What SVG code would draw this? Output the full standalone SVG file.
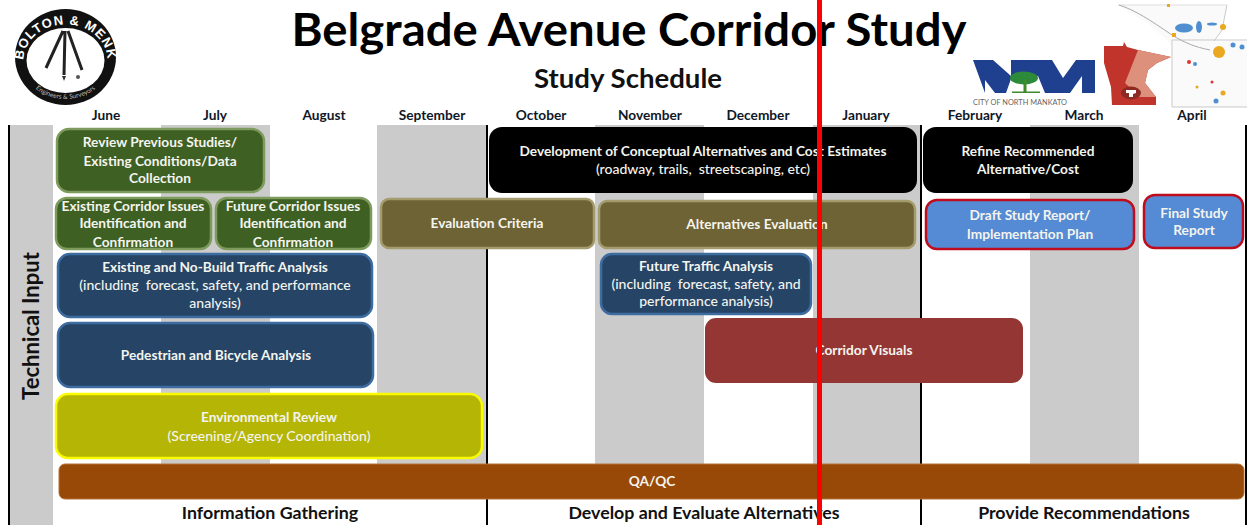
<svg xmlns="http://www.w3.org/2000/svg" width="1247" height="525" viewBox="0 0 1247 525">
<style>
text{font-family:"Lato","Open Sans","Liberation Sans",sans-serif;font-weight:700;text-anchor:middle;white-space:pre}
.m{font-size:13.7px;fill:#101828}
.n{font-size:13.7px;fill:#f4f4ee}
.r{font-weight:500;font-size:14px}
.p{font-size:17.8px;fill:#111}
.box{stroke-width:2.5}
.band{fill:#cbcbcb}
.rule{stroke:#000;stroke-width:2;fill:none}
.lake{fill:#4f8fd0}
.gold{fill:#e9a820}
.road{fill:none;stroke:#c9c9c9;stroke-width:1}
</style>
<rect width="1247" height="525" fill="#fff"/>
<g id="bands">
<rect class="band" x="10" y="125" width="43" height="400"/>
<rect class="band" x="161" y="125" width="109" height="340"/>
<rect class="band" x="377" y="125" width="110" height="340"/>
<rect class="band" x="595" y="125" width="109" height="340"/>
<rect class="band" x="813" y="125" width="108" height="340"/>
<rect class="band" x="1030" y="125" width="109" height="340"/>
</g>
<g id="rules">
<path class="rule" d="M9 125V525M487 125V525M921 125V525M1246 125V525"/>
</g>
<g id="title">
<text x="629" y="46" fill="#000" style="font-size:45px" textLength="675" lengthAdjust="spacingAndGlyphs">Belgrade Avenue Corridor Study</text>
<text x="628" y="88" style="font-size:26px" fill="#111" textLength="188" lengthAdjust="spacingAndGlyphs">Study Schedule</text>
</g>
<g id="logo-bolton">
<ellipse cx="65.5" cy="57" rx="50.5" ry="48" fill="#111"/>
<ellipse cx="65.5" cy="60.5" rx="39" ry="32.5" fill="#fff"/>
<path d="M63 31L46 68M65 31L64 75M68 31L82 70" stroke="#222" stroke-width="3" fill="none"/>
<path d="M62 76h4l-2 5z" fill="#333"/>
<circle cx="78" cy="77" r="2" fill="#555"/>
<defs>
<path id="arcTop" d="M25 70A42 36 0 1 1 106 70"/>
<path id="arcBot" d="M29 82A43 36 0 0 0 102 82"/>
</defs>
<text style="font-size:13px;font-family:'Liberation Sans',sans-serif;letter-spacing:1px" fill="#fff"><textPath href="#arcTop" startOffset="50%">BOLTON &amp; MENK</textPath></text>
<text style="font-size:6.5px;font-weight:400" fill="#bbb"><textPath href="#arcBot" startOffset="50%">Engineers &amp; Surveyors</textPath></text>
</g>
<g id="logo-nm">
<path d="M973 60H993L1011 76V60H1052L1063 78L1076 60H1095V93H1082V76L1070 93H1045L1038 76H1012L1006 93H995L985 80V93Z" fill="#1f3f8f"/>
<ellipse cx="1024" cy="78" rx="14" ry="6.5" fill="#2c8a3a"/>
<rect x="1023.5" y="80" width="3" height="12" fill="#3f8a2a"/>
<rect x="1012" y="91.500" width="28" height="1.500" fill="#3f8a2a"/>
<text x="1020" y="105" style="font-size:8px;font-weight:400" fill="#666" textLength="94" lengthAdjust="spacingAndGlyphs">CITY OF NORTH MANKATO</text>
</g>
<g id="logo-map">
<path d="M1118 5H1227L1222 30L1214 41H1247V107H1172V45L1150 25Z" fill="#fafafa"/>
<path class="road" d="M1172 40H1247M1172 40V107H1247M1214 41L1222 30L1227 5"/>
<path d="M1118 5H1227" stroke="#ddd" fill="none"/>
<path d="M1119 5C1135 10 1150 20 1172 35C1185 43 1195 47 1210 50" fill="none" stroke="#aaa" stroke-width="1"/>
<ellipse class="lake" cx="1184" cy="28" rx="9" ry="4.500"/>
<ellipse class="lake" cx="1199" cy="27" rx="3" ry="6"/>
<ellipse class="lake" cx="1212" cy="24" rx="5" ry="1.500"/>
<circle class="gold" cx="1219" cy="52" r="6"/>
<circle class="gold" cx="1223" cy="27" r="3"/>
<rect class="gold" x="1172" y="33" width="4" height="4"/>
<rect class="gold" x="1167" y="4" width="3" height="3"/>
<circle class="lake" cx="1233" cy="45" r="2.500"/>
<circle class="lake" cx="1242" cy="47" r="2.500"/>
<circle class="lake" cx="1195" cy="64" r="2"/>
<circle class="lake" cx="1216" cy="101" r="2.500"/>
<circle cx="1189" cy="62" r="2" fill="#d33"/>
<circle class="gold" cx="1223" cy="93" r="2.500"/>
<circle class="gold" cx="1197" cy="87" r="1.500"/>
<circle cx="1212" cy="82" r="1.500" fill="#d33"/>
<path d="M1104 46H1123L1124 42L1127 47L1138 50L1171 57L1157 63L1148 70L1145 83L1156 97V105H1112L1111 87L1104 63Z" fill="#c0342c"/>
<path d="M1138 50L1171 57L1157 63L1148 70L1145 83L1156 97H1140L1125 83Z" fill="#dd907c"/>
<ellipse cx="1131" cy="93" rx="10" ry="6.500" fill="#8d2a22"/>
<path d="M1126 90H1136V93L1133 94V97H1129V93H1126Z" fill="#fff"/>
</g>
<g id="months">
<text class="m" x="106" y="120">June</text><text class="m" x="215" y="120">July</text><text class="m" x="324" y="120">August</text><text class="m" x="432" y="120">September</text><text class="m" x="541" y="120">October</text><text class="m" x="650" y="120">November</text><text class="m" x="758" y="120">December</text><text class="m" x="866" y="120">January</text><text class="m" x="975" y="120">February</text><text class="m" x="1084" y="120">March</text><text class="m" x="1192" y="120">April</text>
</g>
<g id="n-review"><rect class="box" x="57" y="129" width="207" height="63" rx="12" fill="#3e6023" stroke="#7e9a5c"/><text class="n" x="160" y="147">Review Previous Studies/</text><text class="n" x="160" y="166">Existing Conditions/Data</text><text class="n" x="160" y="183">Collection</text></g>
<g id="n-existing-issues"><rect class="box" x="56" y="198" width="155" height="51" rx="11" fill="#3e6023" stroke="#7e9a5c"/><text class="n" x="133" y="211">Existing Corridor Issues</text><text class="n" x="133" y="228">Identification and</text><text class="n" x="133" y="247">Confirmation</text></g>
<g id="n-future-issues"><rect class="box" x="216" y="198" width="155" height="51" rx="11" fill="#3e6023" stroke="#7e9a5c"/><text class="n" x="293" y="211">Future Corridor Issues</text><text class="n" x="293" y="228">Identification and</text><text class="n" x="293" y="247">Confirmation</text></g>
<g id="n-criteria"><rect class="box" x="381" y="199" width="213" height="49" rx="8" fill="#6e6334" stroke="#a59c6e"/><text class="n" x="487" y="228">Evaluation Criteria</text></g>
<g id="n-alt-eval"><rect class="box" x="599" y="201" width="316" height="47" rx="8" fill="#6e6334" stroke="#a59c6e"/><text class="n" x="757" y="229">Alternatives Evaluation</text></g>
<g id="n-concept"><rect x="489" y="127" width="428" height="66" rx="13" fill="#000"/><text class="n" x="703" y="156">Development of Conceptual Alternatives and Cost Estimates</text><text class="n r" x="703" y="174">(roadway, trails,  streetscaping, etc)</text></g>
<g id="n-refine"><rect x="923" y="127" width="210" height="66" rx="13" fill="#000"/><text class="n" x="1028" y="156">Refine Recommended</text><text class="n" x="1028" y="174">Alternative/Cost</text></g>
<g id="n-draft"><rect class="box" x="926" y="200" width="208" height="49" rx="11" fill="#558ad4" stroke="#c00d1e"/><text class="n" x="1030" y="220">Draft Study Report/</text><text class="n" x="1030" y="239">Implementation Plan</text></g>
<g id="n-final"><rect class="box" x="1144" y="195" width="99" height="53" rx="11" fill="#558ad4" stroke="#c00d1e"/><text class="n" x="1194" y="218">Final Study</text><text class="n" x="1194" y="235">Report</text></g>
<g id="n-existing-traffic"><rect class="box" x="58" y="254" width="314" height="63" rx="12" fill="#254466" stroke="#3d6ca0"/><text class="n" x="215" y="272">Existing and No-Build Traffic Analysis</text><text class="n r" x="215" y="290">(including  forecast, safety, and performance</text><text class="n r" x="215" y="308">analysis)</text></g>
<g id="n-future-traffic"><rect class="box" x="601" y="254" width="210" height="60" rx="11" fill="#254466" stroke="#3d6ca0"/><text class="n" x="706" y="271">Future Traffic Analysis</text><text class="n r" x="706" y="289">(including  forecast, safety, and</text><text class="n r" x="706" y="306">performance analysis)</text></g>
<g id="n-ped"><rect class="box" x="58" y="323" width="315" height="64" rx="12" fill="#254466" stroke="#3d6ca0"/><text class="n" x="216" y="360">Pedestrian and Bicycle Analysis</text></g>
<g id="n-visuals"><rect x="705" y="318" width="318" height="65" rx="11" fill="#943634"/><text class="n" x="864" y="355">Corridor Visuals</text></g>
<g id="n-env"><rect class="box" x="56" y="394" width="426" height="64" rx="12" fill="#b5b505" stroke="#fafa00"/><text class="n" x="269" y="422">Environmental Review</text><text class="n r" x="269" y="441">(Screening/Agency Coordination)</text></g>
<g id="n-qa"><rect x="59" y="464" width="1185" height="35" rx="6" fill="#984807" stroke="#b57338"/><text class="n" x="652" y="486">QA/QC</text></g>
<g id="labels">
<text class="p" x="270" y="519">Information Gathering</text>
<text class="p" x="704" y="519">Develop and Evaluate Alternatives</text>
<text class="p" x="1084" y="519">Provide Recommendations</text>
<text x="39" y="326" transform="rotate(-90 39 326)" style="font-size:22px" fill="#111">Technical Input</text>
</g>
<rect id="red-line" x="817" y="0" width="5" height="525" fill="#fe0000"/>
</svg>
